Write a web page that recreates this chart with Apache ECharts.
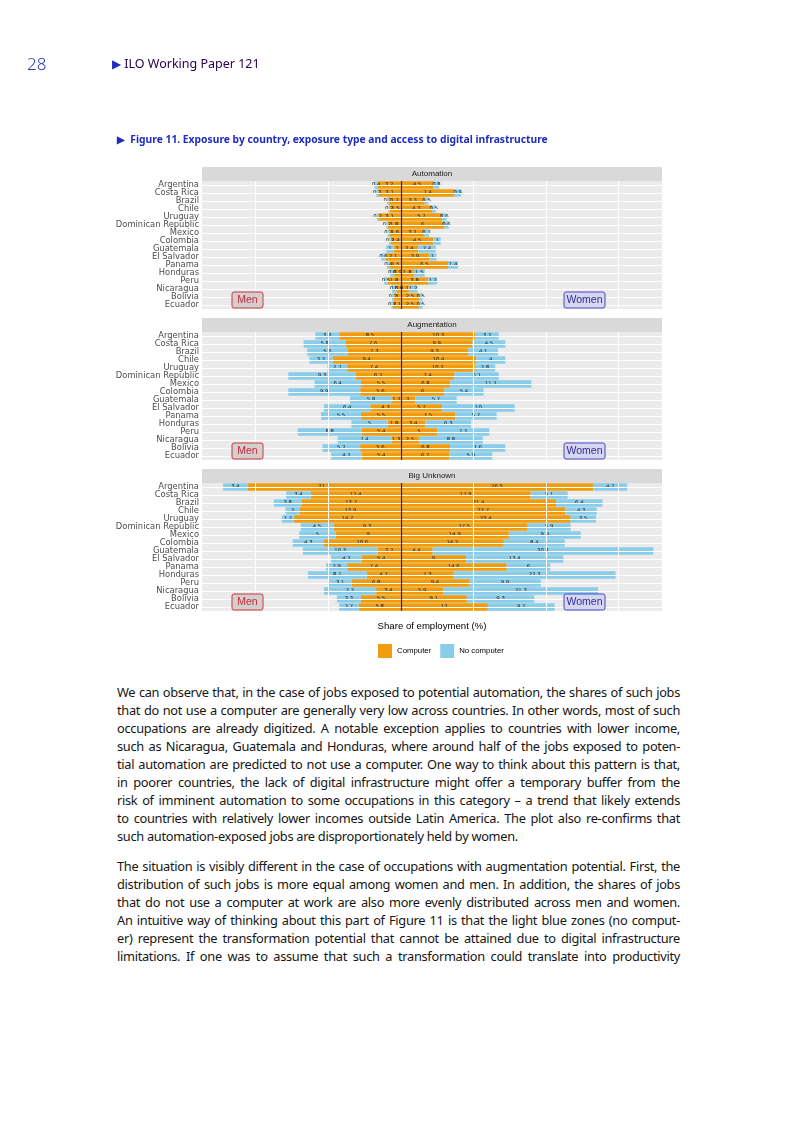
<!DOCTYPE html>
<html>
<head>
<meta charset="utf-8">
<script src="https://cdn.jsdelivr.net/npm/echarts@6/dist/echarts.min.js"></script>
<style>
  html, body { margin: 0; padding: 0; background: #fff; }
  body { width: 793px; height: 1122px; position: relative; overflow: hidden; font-family: "Noto Sans", sans-serif; }
  #chart { position: absolute; left: 0; top: 0; width: 793px; height: 680px; z-index: 1; }
  .t { position: absolute; z-index: 2; white-space: nowrap; }
  .line { position: absolute; left: 117px; width: 563px; font-size: 12.8px; line-height: 18px; color: #151515; white-space: nowrap; text-align: justify; text-align-last: justify; letter-spacing: -0.3px; z-index: 2; }
  .last { text-align-last: left; }
</style>
</head>
<body>
<div id="chart"></div>
<div class="t" style="left:27px;top:52px;font-size:17px;color:#2a3cb0;font-weight:300;">28</div>
<div class="t" style="left:112px;top:55px;font-size:12.5px;color:#230050;"><span style="color:#1E2DBE;font-size:12px;">▶</span> ILO Working Paper 121</div>
<div class="t" style="left:117px;top:132px;font-size:10.3px;color:#1E2DBE;font-weight:bold;"><span style="font-size:9.5px;">▶</span>&nbsp; Figure 11. Exposure by country, exposure type and access to digital infrastructure</div>
<div id="text"></div>
<script>
// ---------------- DATA ----------------
const countries = ['Argentina','Costa Rica','Brazil','Chile','Uruguay','Dominican Republic','Mexico','Colombia','Guatemala','El Salvador','Panama','Honduras','Peru','Nicaragua','Bolivia','Ecuador'];
const panels = ['Automation','Augmentation','Big Unknown'];
const seriesNames = ['Computer','No computer'];

// Automation
const autoMenComp      = [3.2,3.1,1.7,1.5,3.1,1.8,1.6,1.4,1,2.1,1.5,0.9,1.8,0.6,1,1.1];
const autoMenNoComp    = [0.4,0.3,0.2,0.2,0.2,0.2,0.2,0.2,1,0.6,0.4,0.6,0.5,0.6,0.2,0.2];
const autoWomenComp    = [4.5,7.4,3.3,4.3,5.7,6,3.2,4.5,2.4,3.9,6.5,1.8,3.8,1.1,2.5,2.5];
const autoWomenNoComp  = [0.8,0.9,0.5,0.5,0.6,0.6,0.7,1,2.4,1,1.4,1.5,1.2,1.2,0.5,0.5];
// Augmentation
const augMenComp       = [8.5,7.6,7.3,9.4,7.4,6.2,5.5,5.6,1.2,4.2,5.5,1.8,5.4,1.3,5.6,5.4];
const augMenNoComp     = [3.3,5.8,5.6,3.2,2.7,9.3,6.4,9.9,5.8,6.4,5.5,5,8.8,7.4,5.2,4.2];
const augWomenComp     = [10.3,9.9,9.3,10.4,10.2,7.4,6.8,6,2,5.7,7.5,3.4,5,2.5,6.8,6.7];
const augWomenNoComp   = [3.2,4.5,4.1,4,2.8,6.1,11.2,5.4,5.7,10,5.7,6.3,7.2,8.8,7.6,5.9];
// Big Unknown
const bigMenComp       = [21.1,12.4,13.7,13.9,14.7,9.3,9,10.6,3.2,5.4,7.4,4.7,6.8,3.4,5.5,5.8];
const bigMenNoComp     = [3.4,3.4,3.8,2,1.7,4.5,5,4.3,10.3,4.2,2.9,8.1,3.1,7.2,3.3,2.7];
const bigWomenComp     = [26.5,17.9,21.4,22.7,23.4,17.5,14.9,14.2,4.4,9,14.6,7.3,9.4,5.9,9.1,12];
const bigWomenNoComp   = [4.7,5.1,6.4,4.3,3.5,5.9,9.9,8.4,30.4,13.4,6,22.3,9.9,21.3,9.3,9.2];

const gridBreaks = [-20,-10,10,20,30];
const xMin = -27.4, xMax = 36;

// ---------------- PAGE TEXT ----------------
const para1 = [
 'We can observe that, in the case of jobs exposed to potential automation, the shares of such jobs',
 'that do not use a computer are generally very low across countries. In other words, most of such',
 'occupations are already digitized. A notable exception applies to countries with lower income,',
 'such as Nicaragua, Guatemala and Honduras, where around half of the jobs exposed to poten-',
 'tial automation are predicted to not use a computer. One way to think about this pattern is that,',
 'in poorer countries, the lack of digital infrastructure might offer a temporary buffer from the',
 'risk of imminent automation to some occupations in this category – a trend that likely extends',
 'to countries with relatively lower incomes outside Latin America. The plot also re-confirms that',
 'such automation-exposed jobs are disproportionately held by women.'
];
const para2 = [
 'The situation is visibly different in the case of occupations with augmentation potential. First, the',
 'distribution of such jobs is more equal among women and men. In addition, the shares of jobs',
 'that do not use a computer at work are also more evenly distributed across men and women.',
 'An intuitive way of thinking about this part of Figure 11 is that the light blue zones (no comput-',
 'er) represent the transformation potential that cannot be attained due to digital infrastructure',
 'limitations. If one was to assume that such a transformation could translate into productivity'
];
(function(){
  const host = document.getElementById('text');
  function add(lines, startTop, lastLeft){
    lines.forEach((s,i)=>{
      const d = document.createElement('div');
      d.className = 'line' + ((lastLeft && i===lines.length-1) ? ' last' : '');
      d.style.top = (startTop + i*18) + 'px';
      d.textContent = s;
      host.appendChild(d);
    });
  }
  add(para1, 683, true);
  add(para2, 857, false);
})();

// ---------------- CHART ----------------
const COMP = '#F09C0C', NOCOMP = '#89CDEB';
const panelData = [
  [autoMenComp, autoMenNoComp, autoWomenComp, autoWomenNoComp],
  [augMenComp, augMenNoComp, augWomenComp, augWomenNoComp],
  [bigMenComp, bigMenNoComp, bigWomenComp, bigWomenNoComp]
];
const stripTops = [167, 318, 469];
const stripH = 14, bodyH = 128;
const left = 202, right = 793 - 662;

const chart = echarts.init(document.getElementById('chart'), null, {renderer: 'canvas'});
const grids = [], xAxes = [], yAxes = [], series = [], graphics = [];

panels.forEach((name, i) => {
  const top = stripTops[i] + stripH;
  grids.push({left: left, right: right, top: top, height: bodyH, show: true, backgroundColor: '#EBEBEB', borderWidth: 0, containLabel: false});
  xAxes.push({
    type: 'value', gridIndex: i, min: xMin, max: xMax,
    axisLine: {show: false}, axisTick: {show: false}, axisLabel: {show: false}, splitLine: {show: false},
    name: i === 2 ? 'Share of employment (%)' : '', nameLocation: 'middle', nameGap: 10,
    nameTextStyle: {fontFamily: 'Liberation Sans', fontSize: 9.6, color: '#000'}
  });
  yAxes.push({
    type: 'category', gridIndex: i, data: countries, inverse: true,
    axisLine: {show: false},
    axisTick: {show: true, length: 2.5, alignWithLabel: true, lineStyle: {color: '#333', width: 0.8}},
    axisLabel: {fontFamily: 'DejaVu Sans', fontSize: 8.4, color: '#4D4D4D', margin: 3, interval: 0, lineHeight: 8},
    splitLine: {show: false}
  });
  // background grid lines (white)
  series.push({
    type: 'line', xAxisIndex: i, yAxisIndex: i, data: [], z: 1, silent: true,
    markLine: {
      silent: true, symbol: ['none','none'], label: {show: false},
      lineStyle: {color: '#FFFFFF', width: 1, type: 'solid'},
      animation: false,
      data: gridBreaks.map(v => ({xAxis: v})).concat(countries.map(c => ({yAxis: c})))
    }
  });
  const [mc, mn, wc, wn] = panelData[i];
  const lbl = {show: true, position: 'inside', fontSize: 5.3, color: '#1a1a1a', fontFamily: 'DejaVu Sans',
               formatter: p => String(Math.abs(p.value))};
  const mk = (nm, color, arr, sign) => ({
    name: nm, type: 'bar', xAxisIndex: i, yAxisIndex: i, stack: 'p' + i,
    barCategoryGap: '8%', itemStyle: {color: color}, label: lbl, z: 2,
    data: arr.map(v => sign * v), animation: false
  });
  series.push(mk(seriesNames[0], COMP, mc, -1));
  series.push(mk(seriesNames[1], NOCOMP, mn, -1));
  series.push(mk(seriesNames[0], COMP, wc, 1));
  series.push(mk(seriesNames[1], NOCOMP, wn, 1));
  // zero line over bars
  series.push({
    type: 'line', xAxisIndex: i, yAxisIndex: i, data: [], z: 5, silent: true,
    markLine: {silent: true, symbol: ['none','none'], label: {show: false}, animation: false,
      lineStyle: {color: '#3B2A1A', width: 1.2, type: 'solid'}, data: [{xAxis: 0}]}
  });
  // strip
  graphics.push({type: 'rect', left: left, top: stripTops[i], shape: {width: 662 - left, height: stripH}, style: {fill: '#D9D9D9'}, silent: true});
  graphics.push({type: 'text', x: (left + 662) / 2, y: stripTops[i] + stripH / 2, style: {text: name, fill: '#1A1A1A', font: '8px "Liberation Sans"', textAlign: 'center', textVerticalAlign: 'middle'}, silent: true});
  // Men / Women labels
  const ly = top + 111;
  graphics.push({type: 'rect', x: 232, y: ly, shape: {width: 31, height: 16, r: 2}, style: {fill: '#D2CFCF', stroke: '#D0343F', lineWidth: 1}, z: 10, silent: true});
  graphics.push({type: 'text', x: 247.5, y: ly + 8, style: {text: 'Men', fill: '#C8283A', font: '10.5px "Liberation Sans"', textAlign: 'center', textVerticalAlign: 'middle'}, z: 11, silent: true});
  graphics.push({type: 'rect', x: 564, y: ly, shape: {width: 41, height: 16, r: 2}, style: {fill: '#D6D6EE', stroke: '#4B48C6', lineWidth: 1}, z: 10, silent: true});
  graphics.push({type: 'text', x: 584.5, y: ly + 8, style: {text: 'Women', fill: '#2E2C9E', font: '10.5px "Liberation Sans"', textAlign: 'center', textVerticalAlign: 'middle'}, z: 11, silent: true});
});

chart.setOption({
  animation: false,
  grid: grids, xAxis: xAxes, yAxis: yAxes, series: series,
  legend: {
    data: seriesNames, left: 378, top: 644, padding: 0, icon: 'rect', itemWidth: 14, itemHeight: 14, itemGap: 9,
    textStyle: {fontFamily: 'Liberation Sans', fontSize: 7.8, color: '#000'}
  },
  graphic: graphics
});
</script>
</body>
</html>
